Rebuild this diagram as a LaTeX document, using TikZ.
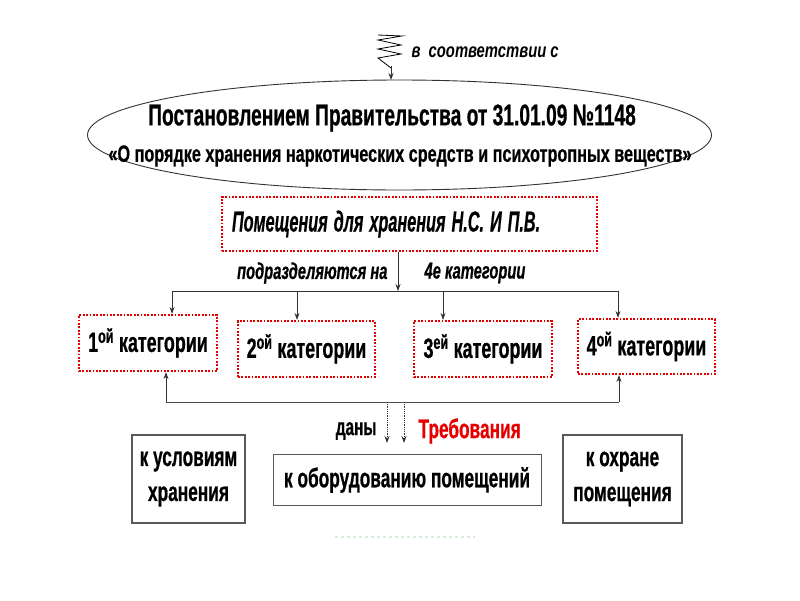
\documentclass[tikz,border=0pt]{standalone}
\usepackage{fontspec}
\setmainfont{Liberation Sans}
\newfontfamily\narrowfont[FakeStretch=0.64, FakeBold=0.6]{Liberation Sans}
\newfontfamily\halfnarrowfont[FakeStretch=0.69, FakeBold=0.5]{Liberation Sans}
\newfontfamily\slimfont[FakeStretch=0.56, FakeBold=0.4]{Liberation Sans}
\newfontfamily\accordfont[FakeStretch=0.74]{Liberation Sans}
\usetikzlibrary{arrows.meta, positioning, shapes.geometric}

\tikzset{
  redbox/.style={draw=red!90!black, line width=2.2pt, dash pattern=on 1.8pt off 1.6pt,
    inner sep=0pt, font=\narrowfont\bfseries\fontsize{28}{30}\selectfont},
  greybox/.style={draw=black!65, line width=1.1pt, inner sep=0pt, align=center,
    font=\narrowfont\bfseries\fontsize{27}{35}\selectfont},
  arr/.style={-{Stealth[length=7pt, width=5pt]}, line width=0.8pt, draw=black!80},
  dotarr/.style={arr, densely dotted},
}

\begin{document}
\begin{tikzpicture}[x=1pt, y=-1pt]
	\useasboundingbox (0,0) rectangle (800,600);
	% Ellipse and its label:
	\node[ellipse, draw=black!80, line width=0.9pt, minimum width=624, minimum height=110, inner sep=0pt](decree) at (399.5, 135){};
	\node[font=\narrowfont\bfseries\fontsize{30}{32}\selectfont](decreeA) at (392, 118){Постановлением Правительства от 31.01.09 №1148};
	\node[font=\halfnarrowfont\bfseries\fontsize{23.5}{25}\selectfont](decreeB) at (400, 156){«О порядке хранения наркотических средств и психотропных веществ»};
	\coordinate (spring) at (378, 35);
	\coordinate (springend) at (391, 80);
	\draw[line width=0.8pt] (spring) -- (402, 36) -- (378, 40) -- (401, 45) -- (378, 49) -- (401, 54) -- (378, 58) -- (391, 68);
	\draw[arr] (391, 66) -- (springend);
	\node[anchor=west, font=\accordfont\bfseries\itshape\fontsize{20}{22}\selectfont](accord) at (408, 52){в\ \ соответствии с};
	% Rooms box:
	\node[redbox, minimum width=375, minimum height=54, text width=355, align=left, font=\slimfont\bfseries\itshape\fontsize{29}{31}\selectfont](rooms) at (409.5, 224){\spaceskip=6pt Помещения для хранения Н.С. И П.В.};
	\node[anchor=east, font=\narrowfont\bfseries\itshape\fontsize{23}{25}\selectfont](divided) at (391, 273){подразделяются на};
	\node[anchor=west, font=\narrowfont\bfseries\itshape\fontsize{23}{25}\selectfont](four) at (421, 273){4е категории};
	% Categories:
	\node[redbox, minimum width=138, minimum height=56](cat1) at (148, 343){1\textsuperscript{ой} категории};
	\node[redbox, minimum width=137, minimum height=56](cat2) at (306.5, 349){2\textsuperscript{ой} категории};
	\node[redbox, minimum width=138, minimum height=56](cat3) at (483, 349){3\textsuperscript{ей} категории};
	\node[redbox, minimum width=137, minimum height=55](cat4) at (646.5, 346.5){4\textsuperscript{ой} категории};
	\coordinate (split) at (398, 291);
	\coordinate (a1) at (172, 291);
	\coordinate (a2) at (297, 291);
	\coordinate (a3) at (443, 291);
	\coordinate (a4) at (618, 291);
	\draw[arr] (rooms.south -| split) -- (split);
	\draw[line width=0.8pt, black!80] (a1) -- (a4);
	\foreach \i/\c in {1/cat1, 2/cat2, 3/cat3, 4/cat4}
		\draw[arr] (a\i) -- (a\i |- \c.north);
	% Back line and requirements:
	\coordinate (b1) at (166, 402);
	\coordinate (b4) at (619, 402);
	\coordinate (d1) at (387, 402);
	\coordinate (d2) at (404, 402);
	\draw[line width=0.8pt, black!70] (b1) -- (b4);
	\draw[arr] (b1) -- (b1 |- cat1.south);
	\draw[arr] (b4) -- (b4 |- cat4.south);
	\coordinate (e1) at (387, 443);
	\coordinate (e2) at (404, 443);
	\draw[dotarr] (d1) -- (e1);
	\draw[dotarr] (d2) -- (e2);
	\node[anchor=east, font=\narrowfont\bfseries\fontsize{24}{26}\selectfont](given) at (380, 431){даны};
	\node[anchor=west, text=red!90!black, font=\narrowfont\bfseries\fontsize{27}{29}\selectfont](demands) at (415, 431){Требования};
	\node[greybox, minimum width=113, minimum height=88](store) at (188.5, 479){к условиям\\хранения};
	\node[greybox, minimum width=268, minimum height=51, line width=0.8pt](equip) at (407, 480){к оборудованию помещений};
	\node[greybox, minimum width=119, minimum height=88](guard) at (622.5, 479){к охране\\помещения};
	\coordinate (g1) at (335, 537);
	\coordinate (g2) at (475, 537);
	\draw[green!50!black, opacity=0.15, dashed, line width=1.5pt] (g1) -- (g2);
\end{tikzpicture}
\end{document}
